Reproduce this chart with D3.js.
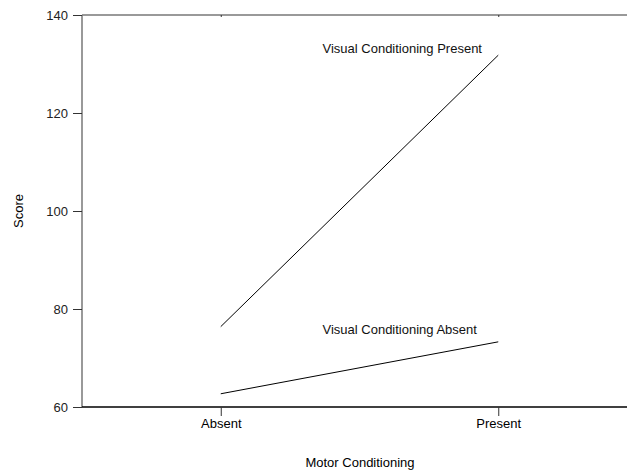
<!DOCTYPE html>
<html>
<head>
<meta charset="utf-8">
<script src="https://cdn.jsdelivr.net/npm/d3@7/dist/d3.min.js"></script>
<style>
  body { margin: 0; background: #fff; }
  text { font-family: "Liberation Sans", Arial, sans-serif; }
</style>
</head>
<body>
<div id="chart"></div>
<script>
// Motor conditioning categories on x.
var categories = ["Absent", "Present"];
// Score per series, one value per category.
var seriesNames = ["Visual Conditioning Present", "Visual Conditioning Absent"];
var visualPresent = [76.4, 131.8];
var visualAbsent = [62.7, 73.3];
// score level where each series label sits
var labelScores = [132.2, 74.9];
var yTicks = [60, 80, 100, 120, 140];

var width = 627, height = 471;
var plotLeft = 82, plotTop = 15, plotBottom = 407;

var svg = d3.select("#chart").append("svg")
    .attr("width", width)
    .attr("height", height);

var x = d3.scalePoint()
    .domain(categories)
    .range([plotLeft, 637])
    .padding(0.5);

var y = d3.scaleLinear()
    .domain([60, 140])
    .range([plotBottom, plotTop]);

var font = "Liberation Sans, Arial, sans-serif";

// top border line with tiny ticks
svg.append("g")
    .attr("transform", "translate(0," + plotTop + ")")
    .call(d3.axisTop(x).tickSize(-2).tickFormat(""))
    .call(g => g.select(".domain").attr("d", "M" + plotLeft + ",0H" + width).attr("stroke", "#777").attr("stroke-width", 1.5))
    .call(g => g.selectAll(".tick line").attr("stroke", "#333"));

// y axis
svg.append("g")
    .attr("transform", "translate(" + plotLeft + ",0)")
    .call(d3.axisLeft(y).tickValues(yTicks).tickSize(9).tickPadding(5))
    .call(g => g.select(".domain").attr("d", "M0," + plotTop + "V" + plotBottom).attr("stroke", "#777").attr("stroke-width", 1.5))
    .call(g => g.selectAll(".tick line").attr("stroke", "#333"))
    .call(g => g.selectAll(".tick text")
        .attr("fill", "#222")
        .style("font-size", "13px")
        .style("font-family", font));

// x axis
svg.append("g")
    .attr("transform", "translate(0," + plotBottom + ")")
    .call(d3.axisBottom(x).tickSize(9).tickPadding(3))
    .call(g => g.select(".domain").attr("d", "M" + plotLeft + ",0H" + width).attr("stroke", "#000").attr("stroke-width", 1.5))
    .call(g => g.selectAll(".tick line").attr("stroke", "#333"))
    .call(g => g.selectAll(".tick text")
        .attr("fill", "#000")
        .style("font-size", "13px")
        .style("font-family", font));

// series lines
var line = d3.line()
    .x((d, i) => x(categories[i]))
    .y(d => y(d));

[visualPresent, visualAbsent].forEach(function(vals, k) {
  svg.append("path")
      .datum(vals)
      .attr("d", line)
      .attr("fill", "none")
      .attr("stroke", "#000")
      .attr("stroke-width", 1);

  svg.append("text")
      .attr("x", 322.5)
      .attr("y", y(labelScores[k]))
      .style("font-size", "13px")
      .attr("fill", "#111")
      .text(seriesNames[k]);
});

// axis titles
svg.append("text")
    .attr("transform", "rotate(-90)")
    .attr("x", -(plotTop + plotBottom) / 2)
    .attr("y", 22.5)
    .attr("text-anchor", "middle")
    .style("font-size", "13px")
    .text("Score");

svg.append("text")
    .attr("x", 360)
    .attr("y", 467)
    .attr("text-anchor", "middle")
    .style("font-size", "13px")
    .text("Motor Conditioning");
</script>
</body>
</html>
